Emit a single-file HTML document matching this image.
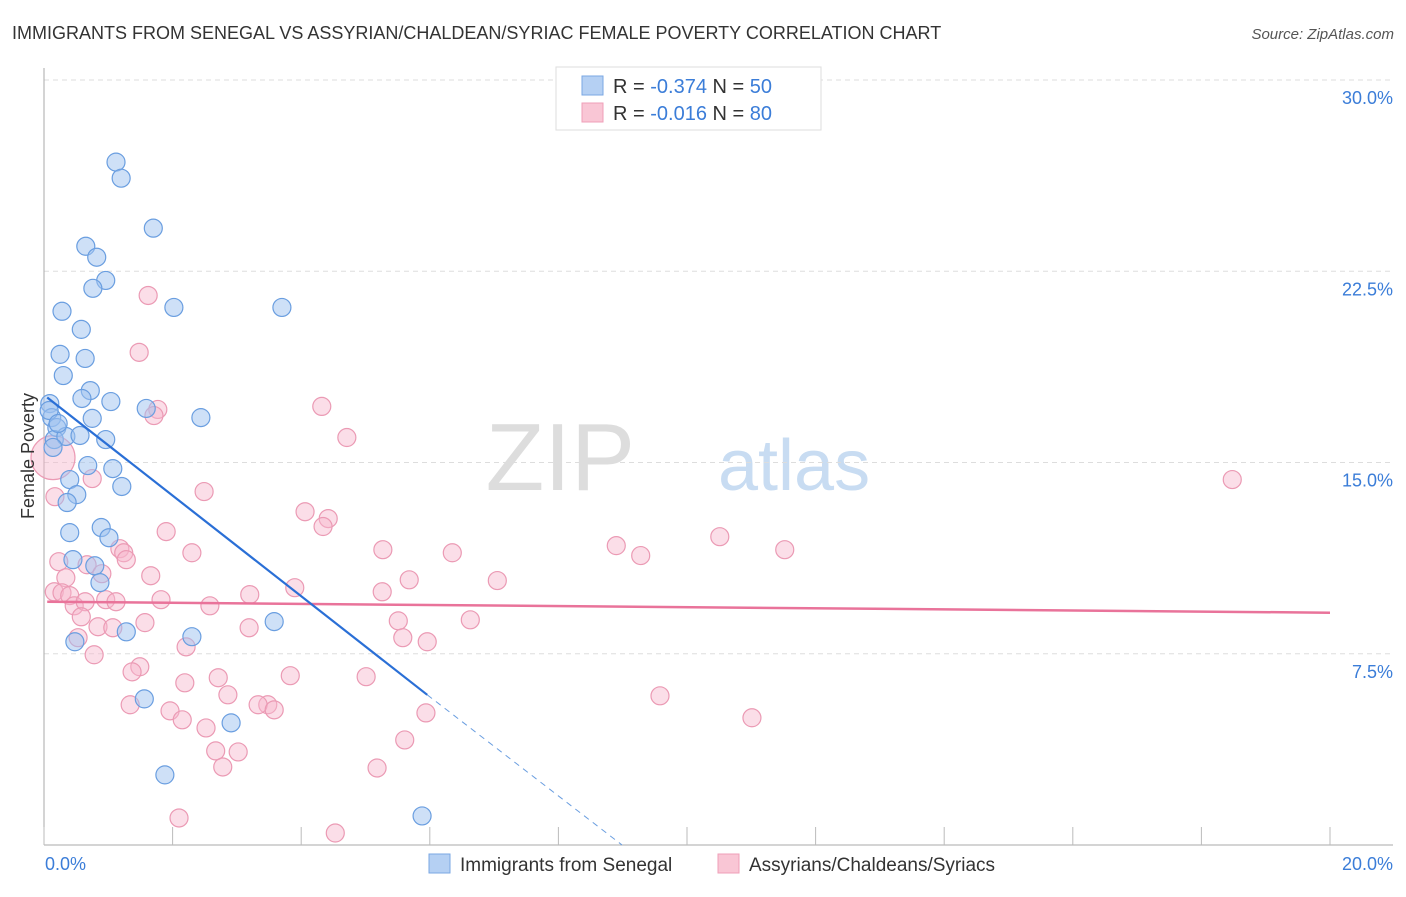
<!DOCTYPE html>
<html><head><meta charset="utf-8"><style>
body{margin:0;background:#fff;font-family:"Liberation Sans",sans-serif;}
svg text{font-family:"Liberation Sans",sans-serif;}
</style></head><body>
<svg id="chart" width="1406" height="892" viewBox="0 0 1406 892" xmlns="http://www.w3.org/2000/svg">
<text x="12" y="39" font-size="18" fill="#333">IMMIGRANTS FROM SENEGAL VS ASSYRIAN/CHALDEAN/SYRIAC FEMALE POVERTY CORRELATION CHART</text>
<text x="1394" y="39" font-size="15" fill="#555" font-style="italic" text-anchor="end">Source: ZipAtlas.com</text>
<g>
<text x="635" y="490" font-size="96" fill="#ddd" font-family="Liberation Serif" text-anchor="end">ZIP</text>
<text x="718" y="490" font-size="72" fill="#c8dcf2">atlas</text>
</g>
<g id="grid"></g>
<g id="axes"></g>
<g id="pink"></g>
<g id="blue"></g>
<g id="trends"></g>
<text x="34" y="456" font-size="18" fill="#333" text-anchor="middle" transform="rotate(-90 34 456)">Female Poverty</text>
<g>
<rect x="556" y="67" width="265" height="63" fill="#fff" stroke="#ddd"/>
<rect x="582" y="76" width="21" height="19" fill="#b5d0f3" stroke="#7aa7e3"/>
<rect x="582" y="103" width="21" height="19" fill="#f9c6d5" stroke="#ef9fb8"/>
<text x="613" y="93" font-size="20" fill="#333">R = <tspan fill="#3b7dd8">-0.374</tspan>   N = <tspan fill="#3b7dd8">50</tspan></text>
<text x="613" y="120" font-size="20" fill="#333">R = <tspan fill="#3b7dd8">-0.016</tspan>   N = <tspan fill="#3b7dd8">80</tspan></text>
</g>
<g>
<rect x="429" y="854" width="21" height="19" fill="#b5d0f3" stroke="#7aa7e3"/>
<text x="460" y="871" font-size="19" fill="#333">Immigrants from Senegal</text>
<rect x="718" y="854" width="21" height="19" fill="#f9c6d5" stroke="#ef9fb8"/>
<text x="749" y="871" font-size="19" fill="#333">Assyrians/Chaldeans/Syriacs</text>
</g>
</svg>
<script>
const yTicks=[0,7.5,15,22.5,30];
const yTickLabels=["","7.5%","15.0%","22.5%","30.0%"];
const xTicks=[0,2,4,6,8,10,12,14,16,18,20];
const blueX=[1.12,1.20,1.70,0.65,0.82,0.96,0.76,2.02,3.70,0.28,0.58,0.25,0.64,0.30,0.72,0.59,1.04,1.59,2.44,0.75,0.09,0.12,0.20,0.16,0.34,0.56,0.96,0.14,0.68,1.07,0.40,0.51,1.21,0.36,0.89,0.40,1.01,0.45,0.79,0.87,1.28,0.48,2.30,3.58,1.56,2.91,1.88,5.88,0.08,0.22];
const blueY=[26.78,26.15,24.19,23.48,23.05,22.14,21.83,21.08,21.08,20.93,20.22,19.24,19.08,18.41,17.82,17.51,17.39,17.12,16.76,16.73,17.31,16.76,16.37,15.90,16.02,16.06,15.90,15.59,14.88,14.76,14.33,13.74,14.06,13.43,12.45,12.25,12.05,11.19,10.95,10.29,8.36,7.97,8.17,8.76,5.73,4.79,2.75,1.14,17.04,16.53];
const pinkX=[1.62,1.48,4.32,1.77,1.71,4.71,0.75,2.49,0.17,4.06,4.42,4.34,1.90,5.27,6.35,8.90,9.28,10.51,11.52,18.48,2.30,1.18,1.24,1.28,0.23,0.67,0.90,1.66,0.34,3.90,5.26,5.68,7.05,3.20,0.16,0.28,0.40,0.47,0.64,0.96,1.12,1.82,2.58,0.58,5.51,6.63,0.84,1.07,1.57,3.19,5.58,5.96,0.53,0.78,2.21,1.49,1.37,2.71,3.83,5.01,9.58,2.19,2.86,1.34,1.96,2.15,3.48,3.33,3.58,5.94,11.01,2.52,2.67,3.02,5.61,2.78,5.18,2.10,4.53,0.14];
const pinkY=[21.55,19.32,17.20,17.08,16.84,15.98,14.37,13.86,13.66,13.07,12.80,12.49,12.29,11.58,11.46,11.74,11.35,12.09,11.58,14.33,11.46,11.62,11.46,11.19,11.11,10.99,10.64,10.56,10.48,10.09,9.93,10.40,10.37,9.82,9.93,9.89,9.78,9.38,9.54,9.62,9.54,9.62,9.38,8.95,8.79,8.83,8.56,8.52,8.72,8.52,8.13,7.97,8.13,7.46,7.77,6.99,6.79,6.56,6.64,6.60,5.85,6.36,5.89,5.50,5.26,4.91,5.50,5.50,5.30,5.18,4.99,4.59,3.69,3.65,4.12,3.06,3.02,1.06,0.47,15.19];
const pinkR=pinkX.map((v,i)=>i===pinkX.length-1?22:9);
const blueTrend=[[0.05,17.55],[5.96,5.89]];
const blueTrendDash=[[5.96,5.89],[8.99,0]];
const pinkTrend=[[0.05,9.54],[20,9.11]];
const NS="http://www.w3.org/2000/svg";
const X0=44,X1=1330,Y0=845,Y1=80;
const sx=v=>X0+v/20*(X1-X0);
const sy=v=>Y0-v/30*(Y0-Y1);
function mk(t,a,p){const e=document.createElementNS(NS,t);for(const k in a)e.setAttribute(k,a[k]);p.appendChild(e);return e;}
const grid=document.getElementById('grid'),axes=document.getElementById('axes');
yTicks.forEach((t,i)=>{
 if(t>0){const l=mk('line',{x1:X0,x2:1393,y1:sy(t),y2:sy(t),stroke:'#ddd','stroke-dasharray':'5,4'},grid);
 
 }
 const tx=mk('text',{x:1393,y:sy(t)+24,'font-size':18,fill:'#3b7dd8','text-anchor':'end'},axes);
 tx.textContent=yTickLabels[i];
 
 
});
mk('line',{x1:X0,x2:X0,y1:68,y2:Y0,stroke:'#aaa'},axes);
mk('line',{x1:X0,x2:1393,y1:Y0,y2:Y0,stroke:'#aaa'},axes);
xTicks.forEach(t=>{const l=mk('line',{x1:sx(t),x2:sx(t),y1:Y0-18,y2:Y0,stroke:'#bbb'},axes);
 
 });
let xl=mk('text',{x:45,y:870,'font-size':18,fill:'#3b7dd8'},axes);xl.textContent='0.0%';


xl=mk('text',{x:1393,y:870,'font-size':18,fill:'#3b7dd8','text-anchor':'end'},axes);xl.textContent='20.0%';


const pg=document.getElementById('pink'),bg=document.getElementById('blue');
pinkX.forEach((x,i)=>{const c=mk('circle',{cx:sx(x),cy:sy(pinkY[i]),r:pinkR[i],fill:'rgba(247,182,203,0.45)',stroke:'#eb9ab4','stroke-width':1.2},pg);
 
 });
blueX.forEach((x,i)=>{const c=mk('circle',{cx:sx(x),cy:sy(blueY[i]),r:9,fill:'rgba(158,194,240,0.5)',stroke:'#6a9ee0','stroke-width':1.2},bg);
 
 });
const tg=document.getElementById('trends');
let l=mk('line',{x1:sx(pinkTrend[0][0]),y1:sy(pinkTrend[0][1]),x2:sx(pinkTrend[1][0]),y2:sy(pinkTrend[1][1]),stroke:'#e9739a','stroke-width':2.5},tg);


l=mk('line',{x1:sx(blueTrend[0][0]),y1:sy(blueTrend[0][1]),x2:sx(blueTrend[1][0]),y2:sy(blueTrend[1][1]),stroke:'#2a6fd6','stroke-width':2.2},tg);


l=mk('line',{x1:sx(blueTrendDash[0][0]),y1:sy(blueTrendDash[0][1]),x2:sx(blueTrendDash[1][0]),y2:sy(blueTrendDash[1][1]),stroke:'#6a9ee0','stroke-width':1,'stroke-dasharray':'6,5'},tg);


</script>
</body></html>
